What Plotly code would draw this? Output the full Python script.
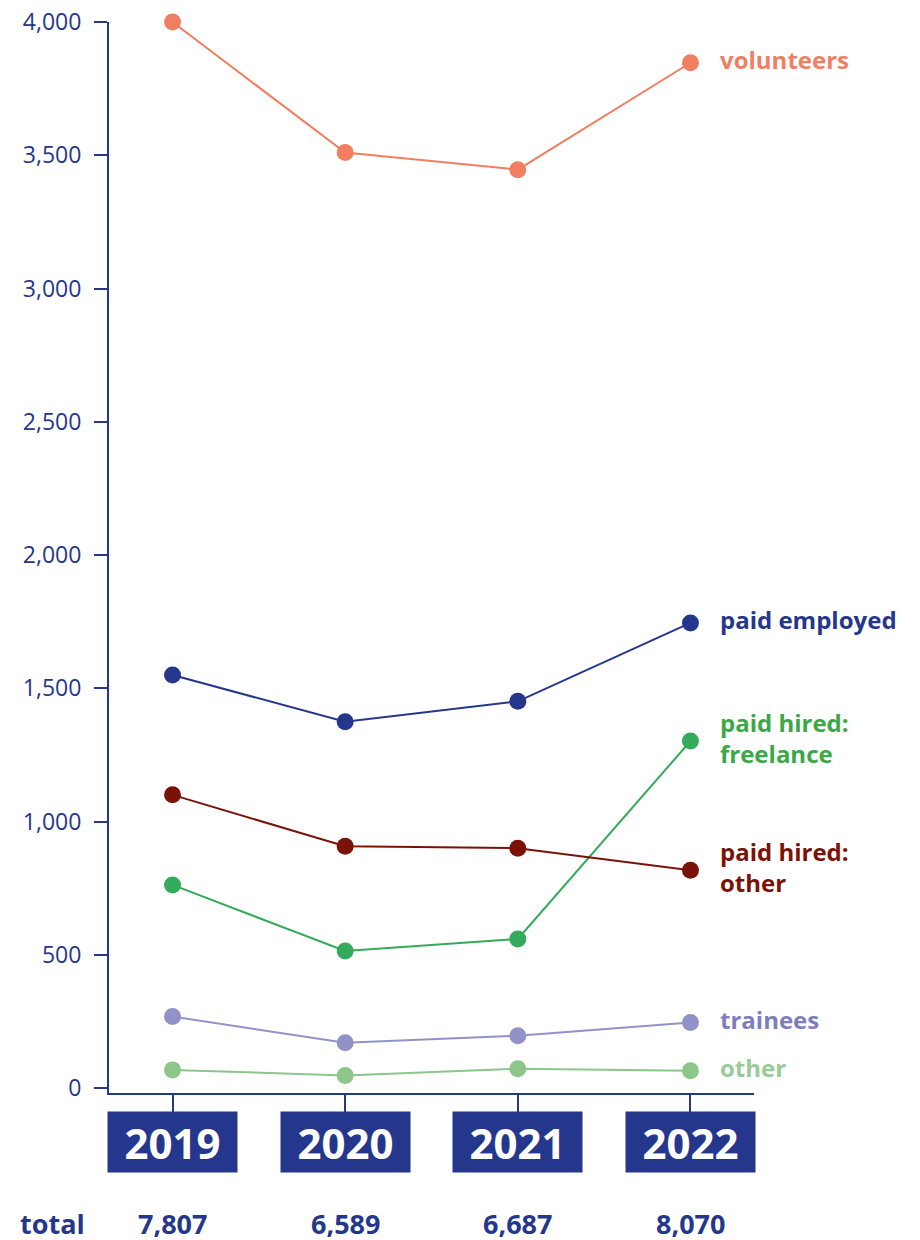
import plotly.graph_objects as go

# Workforce by category, 2019-2022
years = ["2019", "2020", "2021", "2022"]
totals = [7807, 6589, 6687, 8070]

volunteers = [4000, 3510, 3446, 3847]
paid_employed = [1550, 1374, 1451, 1745]
hired_freelance = [762, 514, 559, 1302]
hired_other = [1100, 907, 900, 817]
trainees = [268, 170, 196, 246]
other = [68, 47, 72, 65]

series_names = ["volunteers", "paid employed", "paid hired:<br>freelance",
                "paid hired:<br>other", "trainees", "other"]
series_values = [volunteers, paid_employed, hired_freelance,
                 hired_other, trainees, other]
line_colors = ["#f07f62", "#25378c", "#33ab5b", "#7b1208", "#9292c8", "#8cc68a"]
label_colors = ["#f07f62", "#25378c", "#3aa846", "#7b1208", "#7e7ebd", "#98cb96"]

NAVY = "#25378c"
FONT = "Open Sans"

xs = list(range(len(years)))

fig = go.Figure()

for name, vals, col in zip(series_names, series_values, line_colors):
    fig.add_trace(go.Scatter(
        x=xs, y=vals, mode="lines+markers", name=name,
        line=dict(color=col, width=2),
        marker=dict(color=col, size=17),
        cliponaxis=False, showlegend=False, hoverinfo="skip",
    ))

annotations = []

# series labels at the end of each line
for name, vals, col in zip(series_names, series_values, label_colors):
    annotations.append(dict(
        x=xs[-1], y=vals[-1], xref="x", yref="y",
        text=f"<b>{name}</b>", showarrow=False,
        xanchor="left", yanchor="middle", align="left",
        xshift=28, yshift=3,
        font=dict(family=FONT, size=24, color=col),
    ))

# year boxes below the axis
for x, yr in zip(xs, years):
    annotations.append(dict(
        x=x, y=0, xref="x", yref="paper",
        text=f"<b>{yr}</b>", showarrow=False,
        xanchor="center", yanchor="top", yshift=-18,
        width=129, height=60, bgcolor=NAVY, borderpad=0,
        valign="middle", align="center",
        font=dict(family=FONT, size=42, color="white"),
    ))

# totals row
for x, t in zip(xs, totals):
    annotations.append(dict(
        x=x, y=0, xref="x", yref="paper",
        text=f"<b>{t:,}</b>", showarrow=False,
        xanchor="center", yanchor="middle", yshift=-130,
        height=28, borderpad=0, valign="middle",
        font=dict(family=FONT, size=27, color=NAVY),
    ))
annotations.append(dict(
    x=0, y=0, xref="paper", yref="paper",
    text="<b>total</b>", showarrow=False,
    xanchor="left", yanchor="middle", xshift=-90, yshift=-130,
    height=28, borderpad=0, valign="middle",
    font=dict(family=FONT, size=27, color=NAVY),
))

fig.update_layout(
    width=920, height=1240,
    margin=dict(l=109, r=166, t=22, b=147, autoexpand=False),
    paper_bgcolor="white", plot_bgcolor="white",
    font=dict(family=FONT, color=NAVY),
    annotations=annotations,
    xaxis=dict(
        range=[-0.368, 3.368], tickvals=xs, showticklabels=False,
        ticks="outside", ticklen=18, tickwidth=2, tickcolor=NAVY,
        showline=True, linecolor=NAVY, linewidth=2, automargin=False,
        showgrid=False, zeroline=False, fixedrange=True,
    ),
    yaxis=dict(
        range=[-18.75, 4000], tickvals=list(range(0, 4001, 500)),
        tickformat=",", ticks="outside", ticklen=13, tickwidth=2,
        tickcolor=NAVY, ticklabelstandoff=8, automargin=False,
        tickfont=dict(family=FONT, size=23, color=NAVY),
        showline=True, linecolor=NAVY, linewidth=2,
        showgrid=False, zeroline=False, fixedrange=True,
    ),
)

fig.write_html("out.html")
